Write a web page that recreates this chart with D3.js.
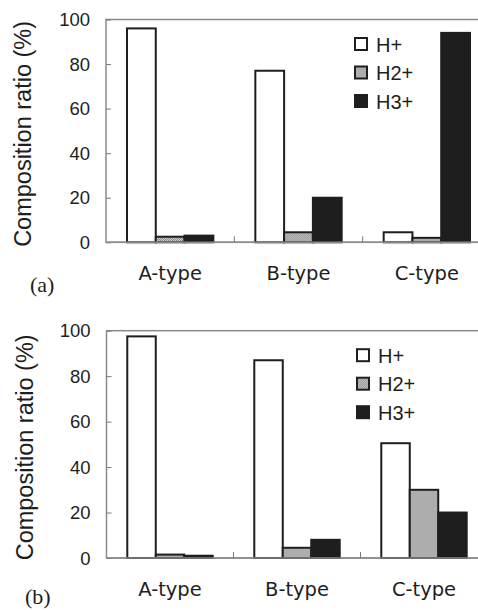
<!DOCTYPE html>
<html>
<head>
<meta charset="utf-8">
<script src="https://cdn.jsdelivr.net/npm/d3@7"></script>
<style>
  body { margin: 0; background: #fff; }
  svg { display: block; }
</style>
</head>
<body>
<div id="chart"></div>
<script>
// categories and series
const categories = ["A-type", "B-type", "C-type"];
const seriesNames = ["H+", "H2+", "H3+"];
const yTicks = [0, 20, 40, 60, 80, 100];

// panel (a) values, %
const aHplus = [96, 77, 4.5];
const aH2plus = [2.5, 4.5, 2];
const aH3plus = [3, 20, 94];

// panel (b) values, %
const bHplus = [97.5, 87, 50.5];
const bH2plus = [1.5, 4.5, 30];
const bH3plus = [1, 8, 20];

const ink = "#1e1e1e";

let svg = d3.select("#chart").append("svg")
	.attr("width", 478)
	.attr("height", 610);

// checker fill for H2+
let pat = svg.append("defs").append("pattern")
	.attr("id", "checker")
	.attr("width", 2).attr("height", 2)
	.attr("patternUnits", "userSpaceOnUse");
pat.append("rect").attr("width", 2).attr("height", 2).attr("fill", "#d4d4d4");
pat.append("rect").attr("width", 1).attr("height", 1).attr("fill", "#858585");
pat.append("rect").attr("x", 1).attr("y", 1).attr("width", 1).attr("height", 1).attr("fill", "#858585");

const fills = ["#fff", "url(#checker)", ink];

function drawPanel(cfg){
	let data = categories.map((c, i) => ({
		cat: c,
		vals: cfg.series.map((s, j) => ({ name: seriesNames[j], value: s[i], idx: j }))
	}));

	let x = d3.scaleBand()
		.domain(categories)
		.range([cfg.left, cfg.right]);

	let xInner = d3.scaleBand()
		.domain(seriesNames)
		.range([0, x.bandwidth()])
		.paddingInner(0)
		.paddingOuter(0.73);

	let y = d3.scaleLinear()
		.domain([0, 100])
		.range([cfg.bottom, cfg.top]);

	let g = svg.append("g");

	//frame
	g.append("rect")
		.attr("x", cfg.left)
		.attr("y", cfg.top)
		.attr("width", cfg.right - cfg.left + 20)
		.attr("height", cfg.bottom - cfg.top)
		.attr("fill", "none")
		.attr("stroke", "#8a8a8a")
		.attr("stroke-width", 1.5);

	//y axis (ticks inside)
	let yAxis = g.append("g")
		.attr("transform", `translate(${cfg.left},0)`)
		.call(d3.axisRight(y).tickValues(yTicks).tickSize(5).tickFormat(""));
	yAxis.select(".domain").remove();
	yAxis.selectAll("line").attr("stroke", "#777");

	g.selectAll(".ylab")
		.data(yTicks)
		.join("text")
		.attr("x", cfg.left - 16)
		.attr("y", d => y(d) + 6.5)
		.attr("text-anchor", "end")
		.attr("font-family", "Liberation Sans, Arial, sans-serif")
		.attr("font-size", 18.5)
		.attr("fill", ink)
		.text(d => d);

	//x axis category separators (ticks pointing up)
	let xb = categories.slice(1).map(c => x(c));
	g.selectAll(".xtick")
		.data(xb)
		.join("line")
		.attr("x1", d => d).attr("x2", d => d)
		.attr("y1", cfg.bottom).attr("y2", cfg.bottom - 6)
		.attr("stroke", "#777");

	//bars
	let groups = g.selectAll(".grp")
		.data(data)
		.join("g")
		.attr("transform", d => `translate(${x(d.cat)},0)`);

	groups.selectAll("rect")
		.data(d => d.vals)
		.join("rect")
		.attr("x", d => xInner(d.name))
		.attr("y", d => y(d.value))
		.attr("width", xInner.bandwidth())
		.attr("height", d => cfg.bottom - y(d.value))
		.attr("fill", d => fills[d.idx])
		.attr("stroke", ink)
		.attr("stroke-width", 2);

	//bottom line on top of bars
	g.append("line")
		.attr("x1", cfg.left).attr("x2", 478)
		.attr("y1", cfg.bottom).attr("y2", cfg.bottom)
		.attr("stroke", "#8a8a8a")
		.attr("stroke-width", 1.5);

	//category labels
	g.selectAll(".xlab")
		.data(categories)
		.join("text")
		.attr("x", d => x(d) + x.bandwidth() / 2)
		.attr("y", cfg.bottom + 38)
		.attr("text-anchor", "middle")
		.attr("font-family", "DejaVu Sans, sans-serif")
		.attr("font-size", 19.5)
		.attr("fill", ink)
		.text(d => d);

	//y title
	g.append("text")
		.attr("transform", `translate(${cfg.titleX},${(cfg.top + cfg.bottom) / 2 + 3}) rotate(-90)`)
		.attr("text-anchor", "middle")
		.attr("font-family", "Liberation Sans, Arial, sans-serif")
		.attr("font-size", 23.5)
		.attr("fill", ink)
		.text("Composition ratio (%)");

	//legend
	let leg = g.selectAll(".leg")
		.data(seriesNames)
		.join("g")
		.attr("transform", (d, i) => `translate(${cfg.legX},${cfg.top + 24.5 + i * 28.5})`);
	leg.append("rect")
		.attr("x", 0).attr("y", -6)
		.attr("width", 12).attr("height", 12)
		.attr("fill", (d, i) => fills[i])
		.attr("stroke", ink)
		.attr("stroke-width", 2);
	leg.append("text")
		.attr("x", 21)
		.attr("y", 7.5)
		.attr("font-family", "Liberation Sans, Arial, sans-serif")
		.attr("font-size", 20)
		.attr("fill", ink)
		.text(d => d);

	//panel label
	g.append("text")
		.attr("x", cfg.labelX)
		.attr("y", cfg.labelY)
		.attr("font-family", "Liberation Serif, Times New Roman, serif")
		.attr("font-size", 22)
		.attr("fill", ink)
		.text(cfg.label);
}

drawPanel({
	series: [aHplus, aH2plus, aH3plus],
	left: 106, right: 491, top: 19.5, bottom: 242.3,
	titleX: 31, legX: 355, labelX: 30, labelY: 292, label: "(a)"
});

drawPanel({
	series: [bHplus, bH2plus, bH3plus],
	left: 106.5, right: 487.5, top: 330.7, bottom: 558,
	titleX: 33, legX: 357, labelX: 25, labelY: 604, label: "(b)"
});
</script>
</body>
</html>
